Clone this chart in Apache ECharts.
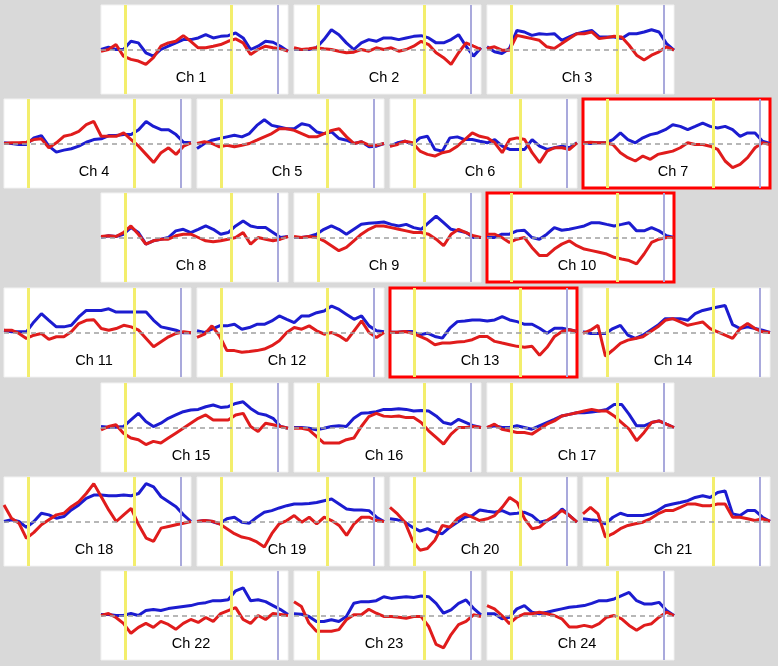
<!DOCTYPE html>
<html><head><meta charset="utf-8">
<script src="https://cdn.jsdelivr.net/npm/echarts@6/dist/echarts.min.js"></script>
<style>html,body{margin:0;padding:0;background:#d9d9d9;}#c{width:778px;height:666px;}</style>
</head><body><div id="c"></div>
<script>
const timeX = [0,4,8,12,16,20,24,28,32,36,40,44,48,52,56,60,64,68,72,76,80,84,88,92,96,100];
const channels = ['Ch 1','Ch 2','Ch 3','Ch 4','Ch 5','Ch 6','Ch 7','Ch 8','Ch 9','Ch 10','Ch 11','Ch 12','Ch 13','Ch 14','Ch 15','Ch 16','Ch 17','Ch 18','Ch 19','Ch 20','Ch 21','Ch 22','Ch 23','Ch 24'];
const highlighted = ['Ch 7','Ch 10','Ch 13'];
const stimMarks = [12.8, 69.7];
const endMark = [94.7];

const blue1 = [0,2.3,0,0,8.3,6.7,-3.3,-6.7,0,3.3,6.7,10,10,11.7,15,11.7,13.3,14,16.7,11.7,0,3.3,8.3,7.3,3.3,-1.7];
const red1  = [-1.7,0,5,-6.7,-10,-11.7,-15,-8.3,3.3,6.7,8.3,14,8.3,1.7,1.7,3.3,5,8.3,10.7,6.7,-5,0,3.3,1.7,0.7,-1.7];
const blue2 = [0,0,0,1.7,10,20,15,6.7,0,6.7,10,8.3,11.7,11.7,10,11.7,13.3,14,11.7,6.7,6.7,10,15,3.3,-6.7,1.7];
const red2  = [1.7,0,0.7,1.7,0.7,0,-1.7,-3.3,-2.7,0,-1.7,1.7,0,1.7,-1.7,0,3.3,8.3,5,-3.3,-8.3,-15,-3.3,6.7,3.3,0];
const blue3 = [2.7,-2.3,-4,1,19.3,17.7,14.3,16,15.3,16,9.3,12.7,16,17.7,19.3,12.7,12.7,12.7,11,16,16,17.7,20,17.7,6,-0.7];
const red3  = [1,2.7,-0.7,-0.7,14.3,12.7,11,9.3,2.7,1,6,11,16,16,17.7,11,12,13.3,12.7,4.3,-5.7,-10.7,-5.7,-2.3,2.7,-0.7];
const blue4 = [0.7,0,-1,-1,5.7,8,-2.7,-8.7,-6.7,-5.3,-2.7,1.3,4,4.7,8,8,9,9,14,22.3,17.3,14,14,9,1.3,0.7];
const red4  = [0,0.7,0.7,1.3,4,4.7,-4.3,0.7,7.3,9,12.3,19,22.3,7.3,7.3,7.3,10.7,4,-2.7,-11,-19.3,-9.3,-4.3,-11,-2.7,0.7];
const blue5 = [-5,0,3.3,5,6.7,8.3,6.7,10,18.3,24,18.3,16.7,15,15,20,18.3,11.7,10,11.7,5,3.3,0,1.7,-3.3,-2.7,0];
const red5  = [0,1.7,0,-3.3,-1.7,-3.3,-1.7,0,3.3,6.7,10,15,15,13.3,10,6.7,6.7,10,13.3,15,6.7,0,1.7,-1.7,-1.7,0];
const blue6 = [-2.7,0.7,2.3,-1,5.7,7.3,-6,-7.7,5.7,6.7,4,4,2.3,0.7,4,-2.7,-6,-6,-6,4,-2.7,-6,-4.3,-2.7,-4.3,0.7];
const red6  = [-2.7,-1,2.3,0.7,-7.7,-11,-12.7,-9.3,-7.7,-2.7,4,10.7,7.3,5.7,0.7,-9.3,4,5.7,4,-9.3,-19.3,-7.7,-4.3,-4.3,-6,0.7];
const blue7 = [0.7,0,0.7,0.7,4,10.7,4,0.7,5.7,9,10.7,14,19,17.3,14,17.3,20.7,17.3,15.7,17.3,14,7.3,10.7,10.7,2.3,0];
const red7  = [0.7,1.3,0.7,0.7,-1,-9.3,-14.3,-17.7,-12.7,-16,-11,-9.3,-7.7,-4.3,0.7,-1,-1,-2.7,-6,-17.7,-24.3,-21,-14.3,-4.3,0.7,-1];
const blue8 = [0,1.7,1,3.3,10,5,-6.7,-3.3,-1.7,0,6.7,8.3,5,8.3,11.7,8.3,3.3,5,11.7,16.7,11.7,10,10,5,0,1];
const red8  = [1,1.7,1,5,11.7,3.3,-6.7,-3.3,-1.7,-1.7,1.7,3.3,3.3,0,-3.3,-4.3,-3.3,-1.7,0,5,-6.7,0,-1.7,-3.3,-1.7,1];
const blue9 = [0,0,1,3.3,8.3,11.7,8.3,3.3,8.3,13.3,14.3,15,15.7,13.3,11.7,13.3,10,8.3,15,21.7,15,8.3,6.7,5,0,0];
const red9  = [1,0,1,0,-3.3,-8.3,-13.3,-10,-3.3,3.3,8.3,11.7,11.7,10,8.3,6.7,5,5,3.3,-1.7,-8.3,3.3,8.3,5,1.7,0];
const blue10 = [0,0,3.3,3.3,6.7,7.3,0,-1.7,3.3,10,7.3,8.3,10,11.7,15,15,13.3,11.7,13.3,15,6.7,6.7,10,6.7,1.7,0];
const red10  = [3.3,3.3,0,-5,-1.7,0,-10,-18.3,-18.3,-11.7,-6.7,-3.3,-8.3,-11.7,-13.3,-15,-16.7,-20,-21.7,-23.3,-26.7,-16.7,-5,-1.7,0,0];
const blue11 = [2.3,0.7,0.7,0.7,10.7,19,12.3,5.7,5.7,7.3,15.7,22.3,22.3,22.3,24,20.7,20.7,20.7,20.7,20.7,12.3,5.7,4,2.3,-0.3,-0.3];
const red11  = [2.3,2.3,-1,-6,-2.7,-1,-7,-4.3,-4.3,0.7,9,12.3,13,4,2.3,4,7.3,5.7,2.3,-6,-14.3,-9.3,-4.3,-1,0.7,-0.3];
const blue12 = [1.7,0,3.3,6.7,6.7,8.3,3.3,5,8.3,8.3,11.7,16.7,13.3,10,16.7,16.7,20,21.7,26.7,23.3,18.3,13.3,16.7,6.7,1.7,0.7];
const red12  = [-5,-1.7,6.7,-3.3,-18.3,-18.3,-20,-19.3,-18.3,-16.7,-13.3,-8.3,0,5,3.3,6.7,1.7,-1.7,0,-3.3,-8.3,1.7,11.7,0,-5,0];
const blue13 = [0.3,0.3,1,1,-2.3,-0.7,-4,-5.7,4.3,11,11.7,12.7,12.7,11.7,12.7,16,12.7,11,8.3,8.3,4.3,-0.7,4.3,4.3,2.7,1];
const red13  = [0.3,0.3,1,-0.7,-4,-7.3,-12.3,-10.7,-10.7,-9.7,-9,-7.3,-4,-4,-9,-10.7,-12.3,-14,-15,-14,-23,-15,-4,1,2.7,1];
const blue14 = [0.7,-1,-1,-1,4,7.3,-2.7,-6,-2.7,2.3,7.3,14,14,14,12.3,19,22.3,24,25.7,27.3,8,4,5.7,4,2.3,0];
const red14  = [-1,2.3,7.3,-24,-17.7,-11,-7.7,-6,-4.3,0.7,5.7,12.3,14,10.7,7.3,9,10.7,4,0.7,-2.7,-6,4,9,4,0.7,0];
const blue15 = [1,0.3,0.3,1,7.7,14.3,6,1,4.3,9.3,12.7,16,17.7,18.3,21,22.7,20.3,21,24.3,26,19.3,14.3,12.7,9.3,1,-0.7];
const red15  = [-2.3,1,2.7,-5.7,-10.7,-12.3,-17.3,-14,-15.7,-10.7,-5.7,-0.7,4.3,9.3,12.7,7.7,7.7,7.7,12.7,14.3,1,-4,4.3,2.7,1,-0.7];
const blue16 = [0,0,-0.7,-2.3,-0.7,1,1.7,1,9.3,14.3,15,16,18.3,18.3,19,18.3,16.7,17.3,16.7,11.7,5,3.3,8.3,5,1.7,0];
const red16  = [-0.7,-0.7,-2.3,-9,-15.7,-15.7,-15.7,-12.3,-10.7,1,11,14.3,11.5,11,11.7,10,10,5,-3.3,-10,-16.7,-6.7,0,0,1,0];
const blue17 = [0,1.7,0,0,1.7,0,-1.7,1.7,5,8.3,11.7,13.3,15,15,15.7,16.7,18.3,23.3,23.3,13.3,1.7,1.7,5,6.7,3.3,0];
const red17  = [0,3.3,-1.7,-3.3,-5,-5,-6.7,-1.7,3.3,6.7,11.7,13.3,15,16.7,18.3,16.7,16.7,11.7,5,-1.7,-13.3,-5,5,6.7,3.3,0];
const blue18 = [0,1.7,0,-6,0,8.3,6.7,3.3,5,11.7,16.7,23.3,26.7,26.7,26,26,26.7,26,28.3,38.3,35,25,20,15,6.7,0];
const red18  = [16.7,3.3,-1.7,-17,-11,-3.3,1.7,6.7,8.3,15,20,28.3,38.3,25,11.7,0,6.7,13.3,-3.3,-16.7,-20,-6.7,-5,-3.3,-1.7,0];
const blue19 = [0,1,0,-2.3,2.7,4.3,-0.7,-1.7,4.3,9.3,11,13.7,16,17.7,17.7,18.3,19.3,21,22.7,17.7,12.7,11.7,11.7,11,4.3,0];
const red19  = [0,1,0.3,-2.3,-7.3,-12.3,-15.7,-17.3,-20.7,-25.7,-12.3,-2.3,1,6,-0.7,4.3,-2.3,4.3,1,-4,-14,-2.3,4.3,4.3,1,0];
const blue20 = [2.7,1.7,-0.7,-5.7,-9.7,-7.3,-10.7,-12.3,-5.7,-0.7,4.3,6,11.7,10.3,9.3,11,7.7,8.3,9.3,6,-0.7,1,4.3,12.7,6,-0.7];
const red20  = [14.3,7.7,-0.7,-19,-29,-27.3,-19,-4,-5.7,2.7,7.7,4.3,1,2.7,6,14.3,24.3,19.3,2.7,-7.3,-5.7,1,6,11,6,-0.7];
const blue21 = [2.7,1.7,1,-2.3,4.3,8.3,6,6,6,7.7,11,16,17.7,19.3,21,24.3,26,24.3,29.3,31,7.7,6,11,11,4.3,0.3];
const red21  = [7.7,14.3,7.7,-15.7,-12.3,-7.3,-4,-2.3,-0.7,2.7,7.7,11,11,14.3,17.7,17.7,16,16,17.7,17.7,4.3,4.3,2.7,1,2.7,0.3];
const blue22 = [1,1,0,0,2,0,5,6,5,7,8,9,10,12,13,15,15,16,25,28,15,16,14,10,6,1];
const red22  = [0,2,-2,-8,-18,-12,-8,-12,-6,-9,-14,-8,-4,-7,-2,-6,2,5,8,-4,-8,0,-4,2,1,0];
const blue23 = [1.7,1.3,-1,-6,-6,-4.3,-6,-1,12.3,14,14,15,19,17.3,18.3,19,18.3,19.7,19,12.3,2.3,5.7,12.3,15.7,7.3,0.7];
const red23  = [14,9,-7.7,-16,-16,-16,-14.3,-4.3,0.7,0.7,6.3,2.3,-1,-1,-1.7,-2.7,-1,-1,-11,-29.3,-32.7,-19.3,-9.3,-6,0.7,-1];
const blue24 = [1.7,1.7,-3.3,-1.7,6.7,10,3.3,1.7,3.3,5,6.7,8.3,9,10,12.3,15,15,16.7,20,23.3,15,11.7,11.7,13.3,5,0];
const red24  = [10,6.7,0,-8.3,-1.7,1.7,1.7,3.3,1.7,0,-3.3,-11.7,-11.7,-10,-11.7,-8.3,-1.7,0,-3.3,-10,-15,-10,-8.3,-1.7,3.3,0];

const blueAll = [blue1,blue2,blue3,blue4,blue5,blue6,blue7,blue8,blue9,blue10,blue11,blue12,blue13,blue14,blue15,blue16,blue17,blue18,blue19,blue20,blue21,blue22,blue23,blue24];
const redAll  = [red1,red2,red3,red4,red5,red6,red7,red8,red9,red10,red11,red12,red13,red14,red15,red16,red17,red18,red19,red20,red21,red22,red23,red24];

// layout
const rowTops = [5, 99, 193, 288, 383, 477, 571];
const rowLefts = [[101,294,487],[4,197,390,583],[101,294,487],[4,197,390,583],[101,294,487],[4,197,390,583],[101,294,487]];
const PW = 187, PH = 89;

const grids = [], xAxes = [], yAxes = [], series = [], graphics = [];
let idx = 0;
rowLefts.forEach((cols, r) => {
  cols.forEach(left => {
    const i = idx++;
    const name = channels[i];
    const hl = highlighted.includes(name);
    const top = rowTops[r];
    grids.push({left: left, top: top, width: PW, height: PH, show: true,
      backgroundColor: '#ffffff', borderColor: hl ? '#ff0000' : '#f2f2f2', borderWidth: hl ? 3 : 1, z: 0});
    xAxes.push({gridIndex: i, type: 'value', min: 0, max: 100, show: false});
    yAxes.push({gridIndex: i, type: 'value', min: -45, max: 45, show: false});
    series.push({type: 'line', xAxisIndex: i, yAxisIndex: i, data: [], silent: true, z: 1,
      markLine: {symbol: ['none','none'], silent: true, animation: false, label: {show: false},
        data: [
          ...stimMarks.map(v => ({xAxis: v, lineStyle: {color: '#f3ee6c', width: 3, type: 'solid', opacity: 1}})),
          ...endMark.map(v => ({xAxis: v, lineStyle: {color: '#a9a9dc', width: 2, type: 'solid', opacity: 1}})),
          {yAxis: 0, lineStyle: {color: '#a0a0a0', width: 1.5, type: [5, 4], opacity: 1}}
        ]}});
    series.push({type: 'line', xAxisIndex: i, yAxisIndex: i, z: 3, symbol: 'none', silent: true,
      data: timeX.map((t, k) => [t, blueAll[i][k]]), lineStyle: {color: '#1c1cd0', width: 3}});
    series.push({type: 'line', xAxisIndex: i, yAxisIndex: i, z: 4, symbol: 'none', silent: true,
      data: timeX.map((t, k) => [t, redAll[i][k]]), lineStyle: {color: '#e01c1c', width: 3}});
    graphics.push({type: 'text', x: left + 90, y: top + 72.5, z: 100, silent: true,
      style: {text: name, fill: '#000', font: '14.5px "Liberation Sans", Arial, sans-serif', align: 'center', verticalAlign: 'middle'}});
  });
});

const chart = echarts.init(document.getElementById('c'), null, {renderer: 'canvas'});
chart.setOption({
  backgroundColor: '#d9d9d9',
  animation: false,
  grid: grids, xAxis: xAxes, yAxis: yAxes, series: series, graphic: graphics
});
</script></body></html>
